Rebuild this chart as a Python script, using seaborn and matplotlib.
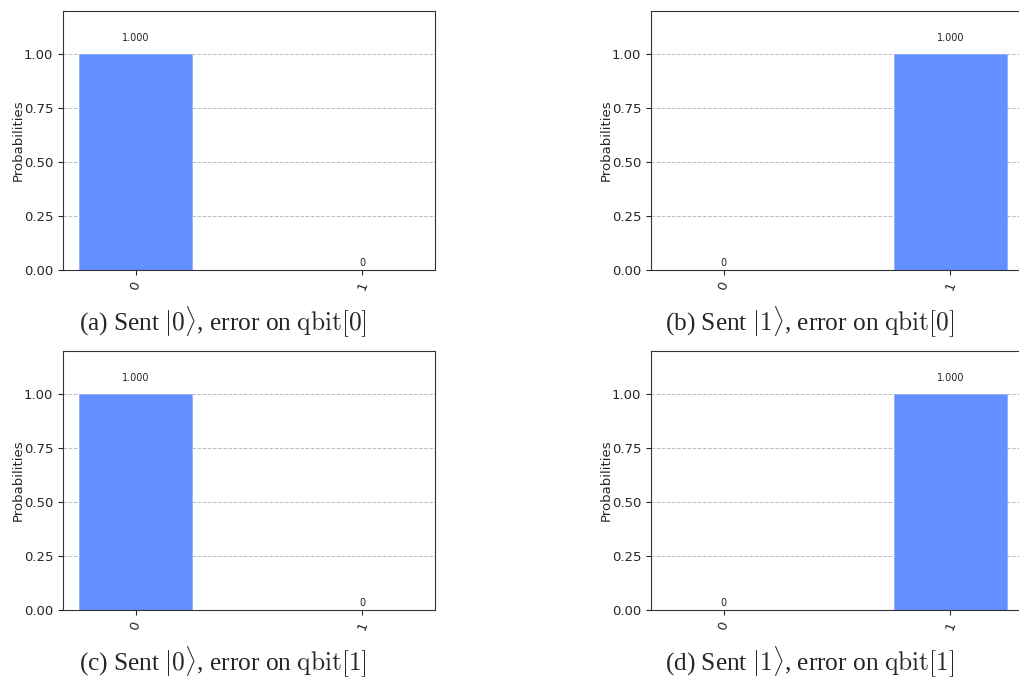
import matplotlib
matplotlib.use("Agg")
import matplotlib.pyplot as plt
import seaborn as sns
import pandas as pd

states = ["0", "1"]
probs_a = [1.0, 0.0]
probs_b = [0.0, 1.0]
probs_c = [1.0, 0.0]
probs_d = [0.0, 1.0]
captions = [
    r"(a) Sent $|0\rangle$, error on $\mathrm{qbit}[0]$",
    r"(b) Sent $|1\rangle$, error on $\mathrm{qbit}[0]$",
    r"(c) Sent $|0\rangle$, error on $\mathrm{qbit}[1]$",
    r"(d) Sent $|1\rangle$, error on $\mathrm{qbit}[1]$",
]
yticks = [0.0, 0.25, 0.5, 0.75, 1.0]

sns.set_style("white")
plt.rcParams["font.family"] = ["DejaVu Sans"]
plt.rcParams["mathtext.fontset"] = "cm"

W, H = 1019, 682
fig = plt.figure(figsize=(W / 100, H / 100), dpi=100)

# panel rects in pixels: left, top, right, bottom
rects = [(63, 11, 435, 270), (651, 11, 1023, 270),
         (63, 351, 435, 610), (651, 351, 1023, 610)]
cap_pos = [(223, 322), (810, 322), (223, 662), (810, 662)]
all_probs = [probs_a, probs_b, probs_c, probs_d]

for (l, t, r, b), probs, cap, (cx, cy) in zip(rects, all_probs, captions, cap_pos):
    ax = fig.add_axes([l / W, 1 - b / H, (r - l) / W, (b - t) / H])
    df = pd.DataFrame({"state": states, "prob": probs})
    sns.barplot(data=df, x="state", y="prob", color="#648FFF", saturation=1,
                width=0.5, ax=ax, zorder=2, edgecolor="#8fb0ff", linewidth=0.6)
    for i, v in enumerate(probs):
        lab = f"{v:.3f}" if v else "0"
        ax.text(i, v + (0.052 if v else 0.01), lab, ha="center", va="bottom",
                fontsize=7, color="#222222")
    ax.set_xlim(-0.32, 1.32)
    ax.set_ylim(0, 1.2)
    ax.set_yticks(yticks)
    ax.set_yticklabels([f"{y:.2f}" for y in yticks], fontsize=9.5)
    ax.set_xticks(range(len(states)))
    ax.set_xticklabels(states, rotation=70, fontsize=9.5)
    ax.set_xlabel("")
    ax.set_ylabel("Probabilities", fontsize=9.5, labelpad=-1)
    ax.grid(axis="y", linestyle="--", color="#bbbbbb", linewidth=0.7, zorder=0)
    ax.set_axisbelow(True)
    ax.tick_params(axis="both", which="both", length=3.5, width=0.8, direction="out",
                   left=True, bottom=True)
    for s in ax.spines.values():
        s.set_visible(True)
        s.set_color("#333333")
        s.set_linewidth(0.8)
    fig.text(cx / W, 1 - cy / H, cap, ha="center", va="center", fontsize=18.3,
             family=["Liberation Serif"])

fig.savefig("out.png", dpi=100)
